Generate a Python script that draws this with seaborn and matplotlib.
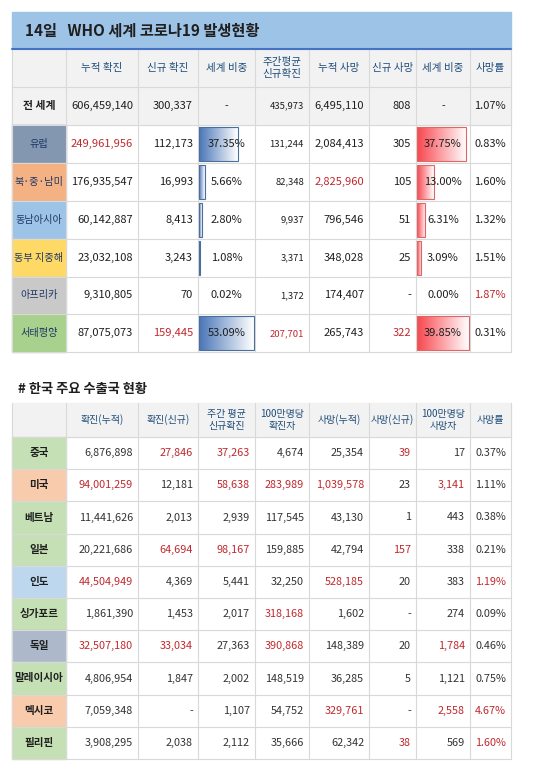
import numpy as np
import matplotlib
matplotlib.use("Agg")
import matplotlib.pyplot as plt
import seaborn as sns
from matplotlib.patches import Rectangle
from matplotlib.colors import LinearSegmentedColormap

sns.set_theme(style="white")
plt.rcParams['font.family'] = ['Noto Sans CJK KR', 'DejaVu Sans']

# ---------------- data ----------------
title1 = "14일   WHO 세계 코로나19 발생현황"
headers1 = ["", "누적 확진", "신규 확진", "세계 비중", "주간평균\n신규확진", "누적 사망", "신규 사망", "세계 비중", "사망률"]
regions = ["전 세계", "유럽", "북·중·남미", "동남아시아", "동부 지중해", "아프리카", "서태평양"]
region_colors = ["#F2F2F2", "#8497B0", "#F4B183", "#9DC3E6", "#FFD966", "#C9C9C9", "#A9D18E"]
cum_conf = ["606,459,140", "249,961,956", "176,935,547", "60,142,887", "23,032,108", "9,310,805", "87,075,073"]
new_conf = ["300,337", "112,173", "16,993", "8,413", "3,243", "70", "159,445"]
conf_share = [None, 37.35, 5.66, 2.80, 1.08, 0.02, 53.09]
weekly_avg = ["435,973", "131,244", "82,348", "9,937", "3,371", "1,372", "207,701"]
cum_death = ["6,495,110", "2,084,413", "2,825,960", "796,546", "348,028", "174,407", "265,743"]
new_death = ["808", "305", "105", "51", "25", "-", "322"]
death_share = [None, 37.75, 13.00, 6.31, 3.09, 0.00, 39.85]
cfr = ["1.07%", "0.83%", "1.60%", "1.32%", "1.51%", "1.87%", "0.31%"]
red1 = [[], [1], [5], [], [], [8], [2, 4, 6]]

title2 = "# 한국 주요 수출국 현황"
headers2 = ["", "확진(누적)", "확진(신규)", "주간 평균\n신규확진", "100만명당\n확진자", "사망(누적)", "사망(신규)", "100만명당\n사망자", "사망률"]
countries = ["중국", "미국", "베트남", "일본", "인도", "싱가포르", "독일", "말레이시아", "멕시코", "필리핀"]
country_colors = ["#C5E0B4", "#F8CBAD", "#C5E0B4", "#C5E0B4", "#BDD7EE", "#C5E0B4", "#ADB9CA", "#C5E0B4", "#F8CBAD", "#C5E0B4"]
c_cum = ["6,876,898", "94,001,259", "11,441,626", "20,221,686", "44,504,949", "1,861,390", "32,507,180", "4,806,954", "7,059,348", "3,908,295"]
c_new = ["27,846", "12,181", "2,013", "64,694", "4,369", "1,453", "33,034", "1,847", "-", "2,038"]
c_week = ["37,263", "58,638", "2,939", "98,167", "5,441", "2,017", "27,363", "2,002", "1,107", "2,112"]
c_permil = ["4,674", "283,989", "117,545", "159,885", "32,250", "318,168", "390,868", "148,519", "54,752", "35,666"]
c_death = ["25,354", "1,039,578", "43,130", "42,794", "528,185", "1,602", "148,389", "36,285", "329,761", "62,342"]
c_dnew = ["39", "23", "1", "157", "20", "-", "20", "5", "-", "38"]
c_dpermil = ["17", "3,141", "443", "338", "383", "274", "1,784", "1,121", "2,558", "569"]
c_cfr = ["0.37%", "1.11%", "0.38%", "0.21%", "1.19%", "0.09%", "0.46%", "0.75%", "4.67%", "1.60%"]
red2 = [[2, 3, 6], [1, 3, 4, 5, 7], [], [2, 3, 6], [1, 5, 8], [4], [1, 2, 4, 7], [], [5, 7, 8], [6, 8]]

# ---------------- layout ----------------
W, H = 550, 779
fig = plt.figure(figsize=(5.5, 7.79), dpi=100)
ax = fig.add_axes([0, 0, 1, 1])
ax.set_xlim(0, W); ax.set_ylim(H, 0); ax.axis("off")

xs = [12, 66, 138, 198, 255, 309, 369, 416, 470, 511]
GRID = "#D9D9D9"
RED = "#C0282D"
TXT = "#1F1F1F"

def cell_text(col, y, s, color=TXT, size=7.6, weight="normal", align="right"):
    x0, x1 = xs[col], xs[col + 1]
    if align == "right":
        ax.text(x1 - 5, y, s, ha="right", va="center", fontsize=size, color=color, weight=weight)
    else:
        ax.text((x0 + x1) / 2, y, s, ha="center", va="center", fontsize=size, color=color,
                weight=weight, linespacing=1.3)

def grid(ytop, ybot, rows_y):
    for y in rows_y:
        ax.plot([xs[0], xs[-1]], [y, y], color=GRID, lw=0.8, zorder=1)
    for x in xs:
        ax.plot([x, x], [ytop, ybot], color=GRID, lw=0.8, zorder=1)

def gradbar(col, y0, y1, frac, c_dark, c_edge):
    x0 = xs[col] + 1
    width = (xs[col + 1] - xs[col] - 2) * frac
    if width <= 0.3:
        return
    cmap = LinearSegmentedColormap.from_list("g", [c_dark, "#FFFFFF"])
    grad = np.linspace(0, 1, 100).reshape(1, -1)
    ax.imshow(grad, cmap=cmap, extent=[x0, x0 + width, y1 - 2, y0 + 2], aspect="auto", zorder=2)
    ax.add_patch(Rectangle((x0, y0 + 2), width, y1 - y0 - 4, fill=False, ec=c_edge, lw=0.8, zorder=3))

# ---- table 1 ----
ax.add_patch(Rectangle((12, 12), xs[-1] - 12, 37, color="#9DC3E6", zorder=0))
ax.plot([12, xs[-1]], [49, 49], color="#4472C4", lw=1.5, zorder=4)
ax.text(25, 31, title1, ha="left", va="center", fontsize=11, weight="bold", color=TXT)
hy0, hy1 = 49, 87
ax.add_patch(Rectangle((12, hy0), xs[-1] - 12, hy1 - hy0, color="#F2F2F2", zorder=0))
rh1 = 37.9
row_edges1 = [hy1 + i * rh1 for i in range(len(regions) + 1)]
ax.add_patch(Rectangle((12, row_edges1[0]), xs[-1] - 12, rh1, color="#F2F2F2", zorder=0))
for c, h in enumerate(headers1):
    if h:
        cell_text(c, (hy0 + hy1) / 2, h, color="#1F4E79", size=7.6, align="center")
grid(hy0, row_edges1[-1], row_edges1)
max1, max2 = max(v for v in conf_share if v), max(v for v in death_share if v)
for i, reg in enumerate(regions):
    y0, y1 = row_edges1[i], row_edges1[i + 1]
    yc = (y0 + y1) / 2
    ax.add_patch(Rectangle((12, y0), xs[1] - 12, y1 - y0, color=region_colors[i], zorder=0.5))
    cell_text(0, yc, reg, color="#1F3864" if i else TXT, size=7.3 if i else 7.8,
              weight="bold" if i == 0 else "medium", align="center")
    vals = [cum_conf[i], new_conf[i], None, weekly_avg[i], cum_death[i], new_death[i], None, cfr[i]]
    for c, v in enumerate(vals, start=1):
        col = RED if c in red1[i] else TXT
        if c == 3:
            if conf_share[i] is None:
                cell_text(c, yc, "-", align="center", weight="medium")
            else:
                gradbar(c, y0, y1, conf_share[i] / max1, "#4A76B8", "#4A6E9E")
                cell_text(c, yc, f"{conf_share[i]:.2f}%", align="center", weight="medium", size=8)
        elif c == 7:
            if death_share[i] is None:
                cell_text(c, yc, "-", align="center", weight="medium")
            else:
                gradbar(c, y0, y1, death_share[i] / max2, "#F8474F", "#E06666")
                cell_text(c, yc, f"{death_share[i]:.2f}%", align="center", weight="medium", size=8)
        elif c == 4:
            cell_text(c, yc, v, color=col, size=6.8, weight="medium")
        else:
            cell_text(c, yc, v, color=col, size=8, weight="medium")

# ---- table 2 ----
ax.text(18, 389, title2, ha="left", va="center", fontsize=9.5, weight="bold", color=TXT)
hy0, hy1 = 403, 437
ax.add_patch(Rectangle((12, hy0), xs[-1] - 12, hy1 - hy0, color="#F2F2F2", zorder=0))
rh2 = 32.2
row_edges2 = [hy1 + i * rh2 for i in range(len(countries) + 1)]
for c, h in enumerate(headers2):
    if h:
        cell_text(c, (hy0 + hy1) / 2, h, color="#1F4E79", size=7.2, align="center")
grid(hy0, row_edges2[-1], row_edges2)
for i, cn in enumerate(countries):
    y0, y1 = row_edges2[i], row_edges2[i + 1]
    yc = (y0 + y1) / 2
    ax.add_patch(Rectangle((12, y0), xs[1] - 12, y1 - y0, color=country_colors[i], zorder=0.5))
    cell_text(0, yc, cn, color=TXT, size=7.6, weight="bold", align="center")
    vals = [c_cum[i], c_new[i], c_week[i], c_permil[i], c_death[i], c_dnew[i], c_dpermil[i], c_cfr[i]]
    for c, v in enumerate(vals, start=1):
        col = RED if c in red2[i] else "#333333"
        cell_text(c, yc, v, color=col, size=7.8)

fig.savefig("out.png", dpi=100, facecolor="white")
